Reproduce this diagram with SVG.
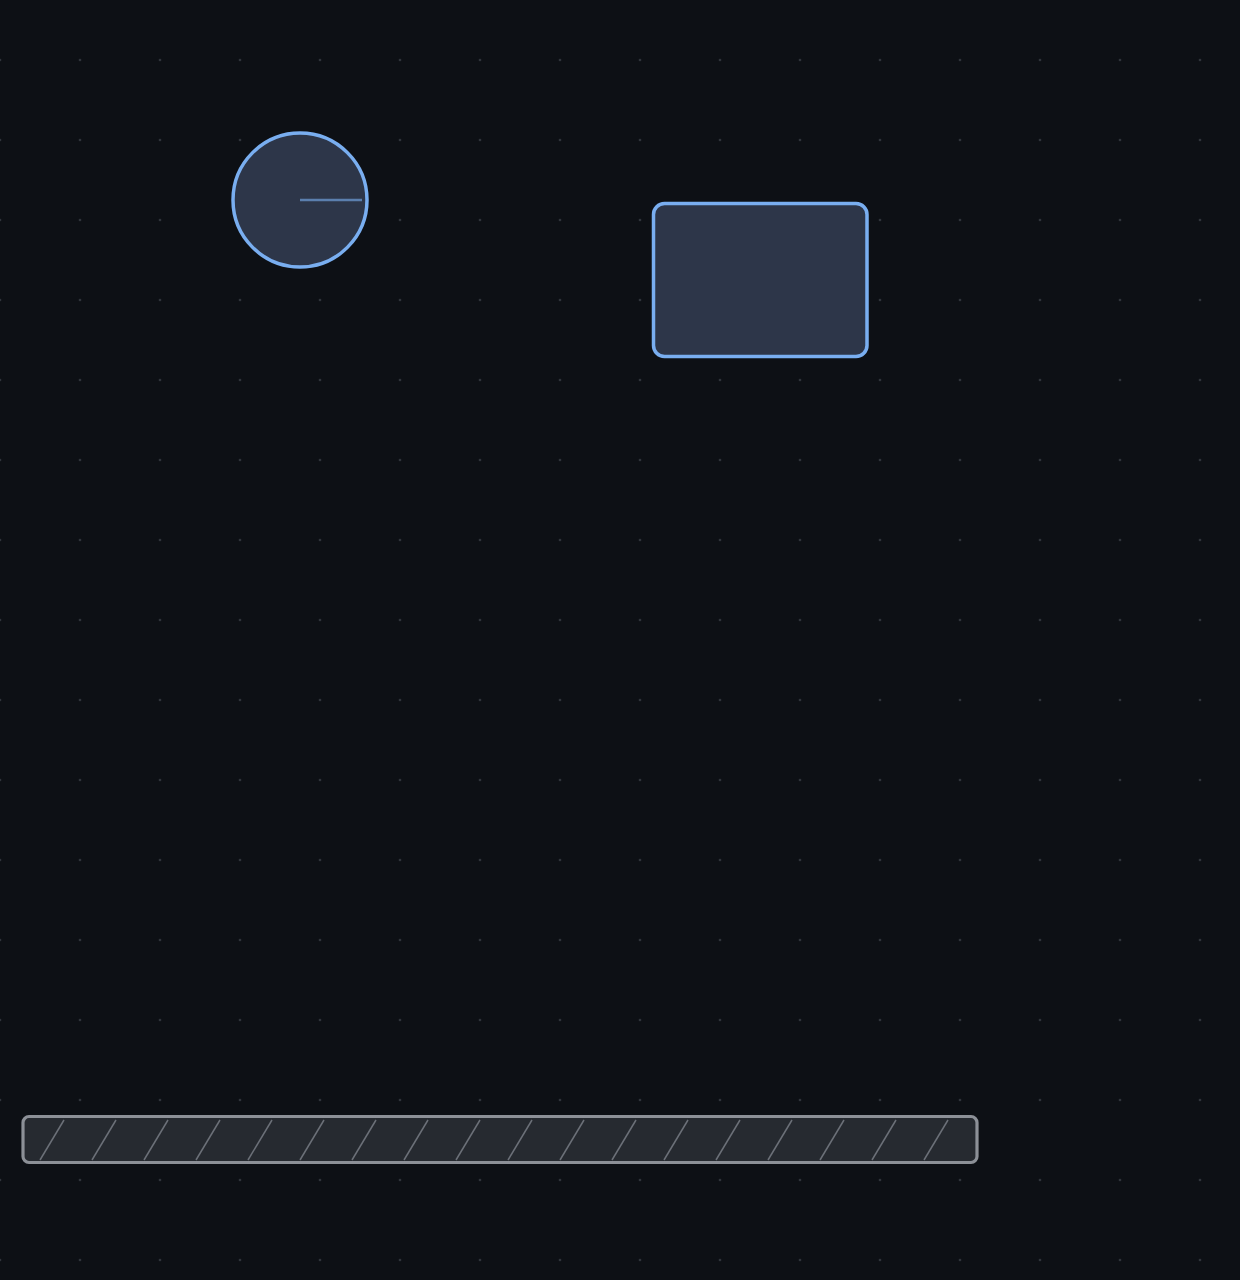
<svg xmlns="http://www.w3.org/2000/svg" width="1240" height="1280" viewBox="0 0 1240 1280">
  <style>
    .node { fill: #2d3649; stroke: #79aef0; stroke-width: 3.5; }
    .bar { fill: #262a30; stroke: #8c9097; stroke-width: 3.2; }
    .hatch { stroke: #6b7078; stroke-width: 1.5; }
    .needle { stroke: #5b7fae; stroke-width: 2.5; }
  </style>
  <defs>
    <pattern id="dots" x="-40" y="20" width="80" height="80" patternUnits="userSpaceOnUse">
      <circle cx="40" cy="40" r="1.3" fill="#30343b"/>
    </pattern>
    <clipPath id="barClip">
      <rect x="23" y="1116.5" width="954" height="46" rx="6"/>
    </clipPath>
  </defs>
  <rect width="1240" height="1280" fill="#0d1015"/>
  <rect width="1240" height="1280" fill="url(#dots)"/>

  <g id="circle-node">
    <circle class="node" cx="300" cy="200" r="67"/>
    <line class="needle" x1="300" y1="200" x2="362" y2="200"/>
  </g>

  <g id="rect-node">
    <rect class="node" x="653.5" y="203.5" width="213.5" height="153" rx="11"/>
  </g>

  <g id="hatched-bar">
    <rect class="bar" x="23" y="1116.5" width="954" height="46" rx="6"/>
    <g clip-path="url(#barClip)">
      <line class="hatch" x1="40" y1="1160" x2="64" y2="1120"/>
      <line class="hatch" x1="92" y1="1160" x2="116" y2="1120"/>
      <line class="hatch" x1="144" y1="1160" x2="168" y2="1120"/>
      <line class="hatch" x1="196" y1="1160" x2="220" y2="1120"/>
      <line class="hatch" x1="248" y1="1160" x2="272" y2="1120"/>
      <line class="hatch" x1="300" y1="1160" x2="324" y2="1120"/>
      <line class="hatch" x1="352" y1="1160" x2="376" y2="1120"/>
      <line class="hatch" x1="404" y1="1160" x2="428" y2="1120"/>
      <line class="hatch" x1="456" y1="1160" x2="480" y2="1120"/>
      <line class="hatch" x1="508" y1="1160" x2="532" y2="1120"/>
      <line class="hatch" x1="560" y1="1160" x2="584" y2="1120"/>
      <line class="hatch" x1="612" y1="1160" x2="636" y2="1120"/>
      <line class="hatch" x1="664" y1="1160" x2="688" y2="1120"/>
      <line class="hatch" x1="716" y1="1160" x2="740" y2="1120"/>
      <line class="hatch" x1="768" y1="1160" x2="792" y2="1120"/>
      <line class="hatch" x1="820" y1="1160" x2="844" y2="1120"/>
      <line class="hatch" x1="872" y1="1160" x2="896" y2="1120"/>
      <line class="hatch" x1="924" y1="1160" x2="948" y2="1120"/>
    </g>
  </g>

  <g id="connectors"></g>
</svg>
